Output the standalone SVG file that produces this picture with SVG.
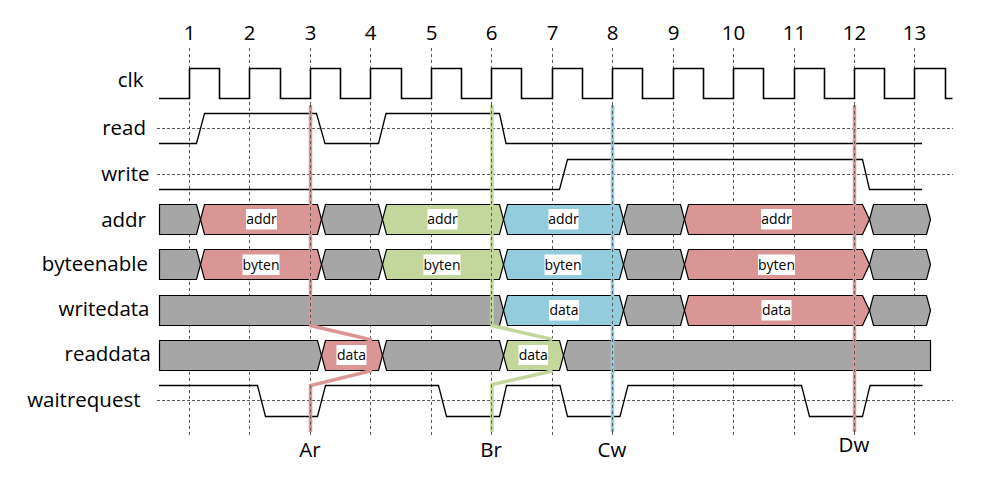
<svg xmlns="http://www.w3.org/2000/svg" width="990" height="491" viewBox="0 0 990 491">
<style>
  .lbl{font-family:"Open Sans","Noto Sans","Liberation Sans",sans-serif;font-size:20.5px;fill:#000}
  .end{text-anchor:end}
  .mid{text-anchor:middle}
  .small{font-family:"Open Sans","Noto Sans","Liberation Sans",sans-serif;font-size:14px;fill:#000;text-anchor:middle}
  .grid{stroke:#595959;stroke-width:1;stroke-dasharray:3 3;fill:none}
  .hgrid{stroke:#595959;stroke-width:1;stroke-dasharray:3 2;fill:none}
  .sig{stroke:#000;stroke-width:1.3;fill:none}
  .clk{stroke:#000;stroke-width:1.6;fill:none}
  .bus polygon{stroke:#000;stroke-width:1.2;stroke-linejoin:miter}
  .g{fill:#a6a6a6}
  .r{fill:#d99694}
  .gr{fill:#c3d69b}
  .b{fill:#93cddd}
  .box{fill:#fff}
  .mk{fill:none;stroke-width:3.5}
</style>

<g id="grid">
  <path class="grid" d="M189.5,48V437M249.5,48V437M310.5,48V437M370.5,48V437M431.5,48V437M491.5,48V437M552.5,48V437M612.5,48V437M673.5,48V437M733.5,48V437M794.5,48V437M854.5,48V437M914.5,48V437"/>
  <path class="hgrid" d="M157,128.5H953M157,174.5H953M157,400.5H953"/>
</g>

<g id="cycle-numbers" class="lbl mid">
  <text x="189.5" y="40">1</text>
  <text x="249.5" y="40">2</text>
  <text x="310.5" y="40">3</text>
  <text x="370.5" y="40">4</text>
  <text x="431.5" y="40">5</text>
  <text x="491.5" y="40">6</text>
  <text x="552.5" y="40">7</text>
  <text x="612.5" y="40">8</text>
  <text x="673.5" y="40">9</text>
  <text x="733.5" y="40">10</text>
  <text x="794.5" y="40">11</text>
  <text x="854.5" y="40">12</text>
  <text x="914.5" y="40">13</text>
</g>

<g id="signal-names" class="lbl end">
  <text x="143.5" y="86.7">clk</text>
  <text x="146" y="135">read</text>
  <text x="149.5" y="181">write</text>
  <text x="146" y="226.7">addr</text>
  <text x="148" y="271">byteenable</text>
  <text x="149.5" y="316">writedata</text>
  <text x="151" y="361">readdata</text>
  <text x="140.5" y="406.7">waitrequest</text>
</g>

<g id="clk">
  <path class="clk" d="M159,98.5H189.5V68.5H219.5V98.5H249.5V68.5H280.5V98.5H310.5V68.5H340.5V98.5H370.5V68.5H401.5V98.5H431.5V68.5H461.5V98.5H491.5V68.5H521.5V98.5H552.5V68.5H582.5V98.5H612.5V68.5H642.5V98.5H673.5V68.5H703.5V98.5H733.5V68.5H763.5V98.5H794.5V68.5H824.5V98.5H854.5V68.5H884.5V98.5H914.5V68.5H945.5V98.5H952.5"/>
</g>

<g id="read">
  <path class="sig" d="M159,143.5H196.5L204.5,113.5H316.5L325,143.5H378.5L386,113.5H499.5L506,143.5H922"/>
</g>

<g id="write">
  <path class="sig" d="M159,189.5H559.5L567.5,159.5H862.5L869.5,189.5H922"/>
</g>

<g id="addr" class="bus" transform="translate(0,204.5)">
  <polygon class="g" points="159.5,0 196.5,0 200.5,15 196.5,30 159.5,30"/>
  <polygon class="r" points="200.5,15 204.5,0 317.5,0 321.5,15 317.5,30 204.5,30"/>
  <polygon class="g" points="321.5,15 325.5,0 378.5,0 382.5,15 378.5,30 325.5,30"/>
  <polygon class="gr" points="382.5,15 386.5,0 499.5,0 503.5,15 499.5,30 386.5,30"/>
  <polygon class="b" points="503.5,15 507.5,0 619.5,0 623.5,15 619.5,30 507.5,30"/>
  <polygon class="g" points="623.5,15 627.5,0 680.5,0 684.5,15 680.5,30 627.5,30"/>
  <polygon class="r" points="684.5,15 688.5,0 862.5,0 869.5,15 862.5,30 688.5,30"/>
  <polygon class="g" points="869.5,15 873.5,0 926.5,0 930.5,15 926.5,30 873.5,30"/>
  <rect class="box" x="246" y="4.5" width="31" height="20.5"/>
  <text class="small" x="261.5" y="19.7">addr</text>
  <rect class="box" x="427.5" y="4.5" width="30" height="20.5"/>
  <text class="small" x="442.5" y="19.7">addr</text>
  <rect class="box" x="548.5" y="4.5" width="30" height="20.5"/>
  <text class="small" x="563.5" y="19.7">addr</text>
  <rect class="box" x="761" y="4.5" width="31" height="20.5"/>
  <text class="small" x="776.5" y="19.7">addr</text>
</g>

<g id="byteenable" class="bus" transform="translate(0,249.5)">
  <polygon class="g" points="159.5,0 196.5,0 200.5,15 196.5,30 159.5,30"/>
  <polygon class="r" points="200.5,15 204.5,0 317.5,0 321.5,15 317.5,30 204.5,30"/>
  <polygon class="g" points="321.5,15 325.5,0 378.5,0 382.5,15 378.5,30 325.5,30"/>
  <polygon class="gr" points="382.5,15 386.5,0 499.5,0 503.5,15 499.5,30 386.5,30"/>
  <polygon class="b" points="503.5,15 507.5,0 619.5,0 623.5,15 619.5,30 507.5,30"/>
  <polygon class="g" points="623.5,15 627.5,0 680.5,0 684.5,15 680.5,30 627.5,30"/>
  <polygon class="r" points="684.5,15 688.5,0 862.5,0 869.5,15 862.5,30 688.5,30"/>
  <polygon class="g" points="869.5,15 873.5,0 926.5,0 930.5,15 926.5,30 873.5,30"/>
  <rect class="box" x="242.5" y="5" width="37" height="20.5"/>
  <text class="small" x="261" y="20.2">byten</text>
  <rect class="box" x="423.5" y="5" width="37" height="20.5"/>
  <text class="small" x="442" y="20.2">byten</text>
  <rect class="box" x="544.5" y="5" width="37" height="20.5"/>
  <text class="small" x="563" y="20.2">byten</text>
  <rect class="box" x="758" y="5" width="37" height="20.5"/>
  <text class="small" x="776.5" y="20.2">byten</text>
</g>

<g id="writedata" class="bus" transform="translate(0,295.5)">
  <polygon class="g" points="159.5,0 499.5,0 503.5,15 499.5,30 159.5,30"/>
  <polygon class="b" points="503.5,15 507.5,0 619.5,0 623.5,15 619.5,30 507.5,30"/>
  <polygon class="g" points="623.5,15 627.5,0 680.5,0 684.5,15 680.5,30 627.5,30"/>
  <polygon class="r" points="684.5,15 688.5,0 862.5,0 869.5,15 862.5,30 688.5,30"/>
  <polygon class="g" points="869.5,15 873.5,0 926.5,0 930.5,15 926.5,30 873.5,30"/>
  <rect class="box" x="549" y="4.5" width="30" height="20.5"/>
  <text class="small" x="564" y="19.7">data</text>
  <rect class="box" x="761.5" y="4.5" width="30" height="20.5"/>
  <text class="small" x="776.5" y="19.7">data</text>
</g>

<g id="readdata" class="bus" transform="translate(0,340.5)">
  <polygon class="g" points="159.5,0 317.5,0 321.5,15 317.5,30 159.5,30"/>
  <polygon class="r" points="321.5,15 325.5,0 378.5,0 382.5,15 378.5,30 325.5,30"/>
  <polygon class="g" points="382.5,15 386.5,0 499.5,0 503.5,15 499.5,30 386.5,30"/>
  <polygon class="gr" points="503.5,15 507.5,0 559.5,0 563.5,15 559.5,30 507.5,30"/>
  <polygon class="g" points="563.5,15 567.5,0 930.5,0 930.5,30 567.5,30"/>
  <rect class="box" x="336.5" y="4.5" width="30" height="20"/>
  <text class="small" x="351.5" y="19.7">data</text>
  <rect class="box" x="518.5" y="4.5" width="29.5" height="20"/>
  <text class="small" x="533.3" y="19.7">data</text>
</g>

<g id="waitrequest">
  <path class="sig" d="M159,385.5H257.5L265.5,416.5H317.5L325.5,385.5H438.5L446.5,416.5H499.5L506.5,385.5H560L567.5,416.5H620L628,385.5H801.5L809.5,416.5H862.5L870,385.5H922.5"/>
</g>

<g id="connectors">
  <path class="mk" stroke="#d99694" d="M310.5,105V325.5L372,340M372,370.5L310.5,385.5V432"/>
  <path class="mk" stroke="#c3d69b" d="M492,105V325.5L552.5,339.5M552.5,371L492,384.5V432"/>
  <path class="mk" stroke="#93cddd" d="M612.5,105V432"/>
  <path class="mk" stroke="#d99694" d="M854.5,105V432"/>
  <path class="grid" d="M310.5,105V325.5M310.5,385.5V432M491.5,105V325.5M491.5,384.5V432M612.5,105V432M854.5,105V432"/>
</g>

<g id="marker-labels" class="lbl mid">
  <text x="310" y="456.5">Ar</text>
  <text x="491" y="456.5">Br</text>
  <text x="612" y="456.5">Cw</text>
  <text x="854" y="452">Dw</text>
</g>
</svg>
